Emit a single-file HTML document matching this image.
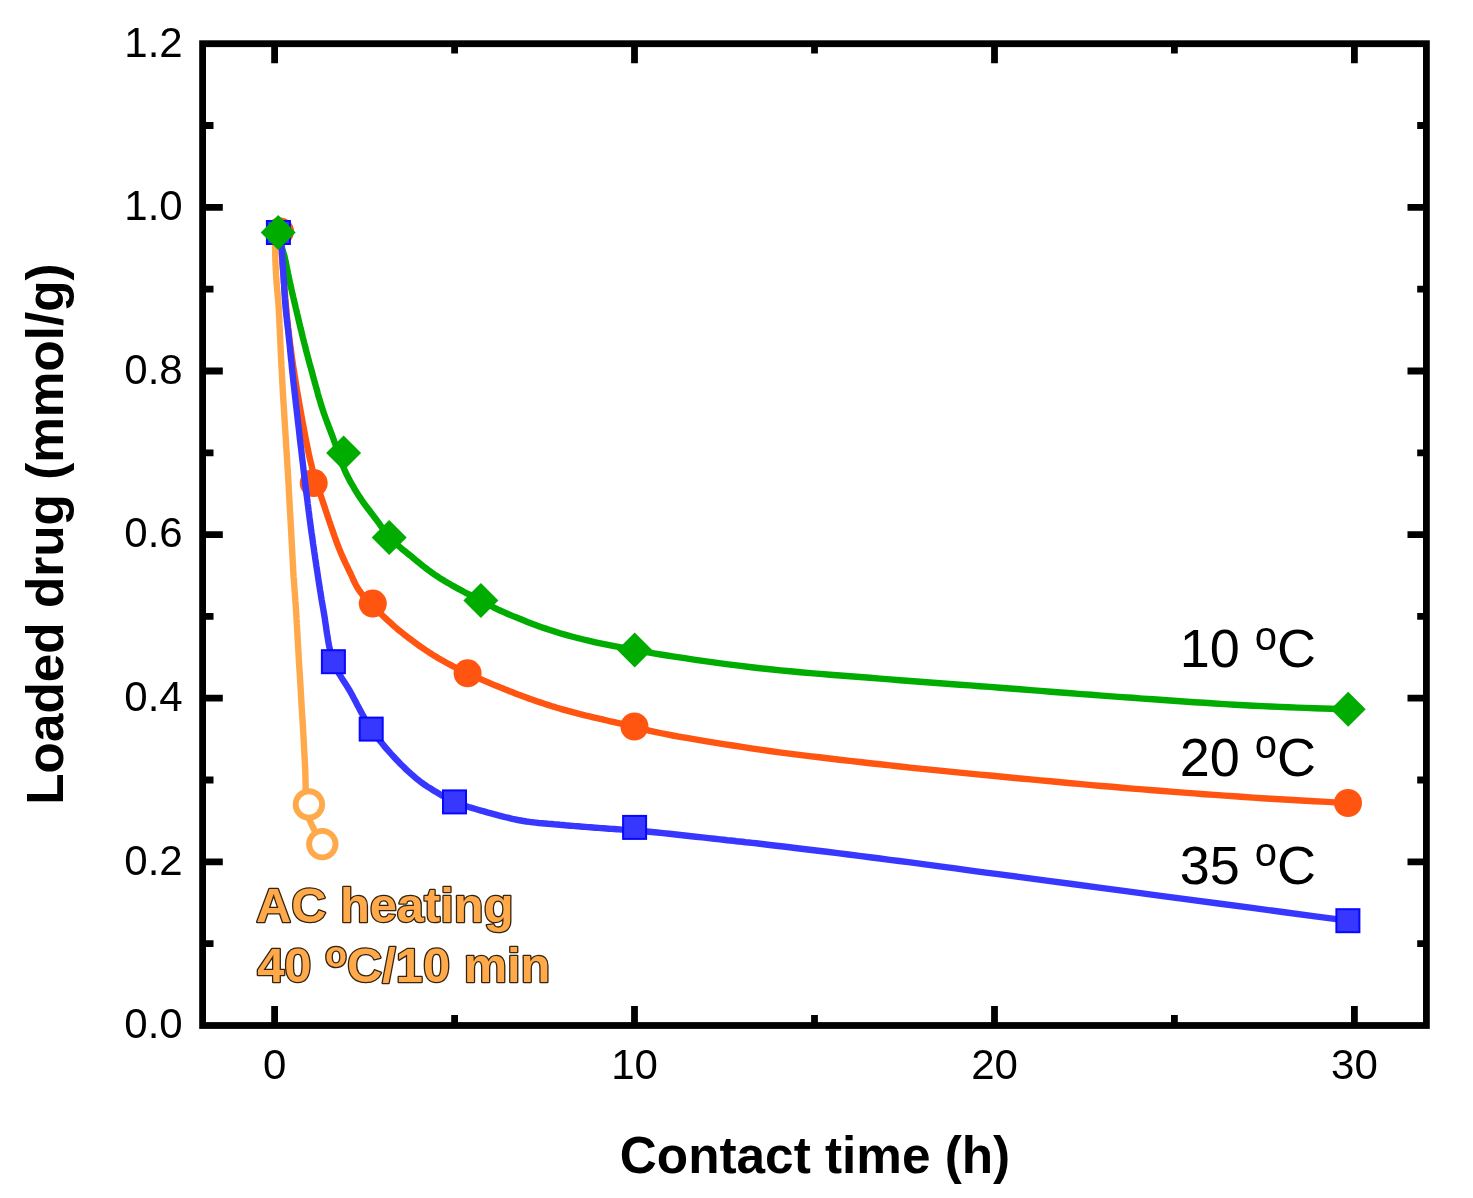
<!DOCTYPE html>
<html><head><meta charset="utf-8"><title>Loaded drug vs contact time</title>
<style>html,body{margin:0;padding:0;background:#fff}svg{display:block;filter:blur(0.45px)}text{font-family:"Liberation Sans",sans-serif}</style></head><body>
<svg width="1473" height="1198" viewBox="0 0 1473 1198">
<rect width="1473" height="1198" fill="#fff"/>
<g fill="none" stroke-width="6.4" stroke-linejoin="round" stroke-linecap="butt">
<path stroke="#FFA94B" d="M275.0,233.0 L275.0,234.8 L275.0,236.6 L275.0,238.4 L275.0,240.3 L275.0,242.1 L275.0,243.9 L275.0,245.8 L275.1,247.6 L275.1,249.5 L275.1,251.3 L275.2,253.2 L275.2,255.1 L275.3,257.1 L275.3,259.2 L275.4,261.3 L275.5,263.4 L275.6,265.5 L275.7,267.6 L275.8,269.7 L275.9,271.8 L276.0,273.9 L276.1,276.0 L276.3,278.1 L276.4,280.2 L276.5,282.3 L276.7,284.3 L276.9,286.3 L277.1,288.3 L277.2,290.3 L277.4,292.3 L277.6,294.4 L277.8,296.4 L278.0,298.5 L278.2,300.6 L278.3,302.8 L278.5,305.0 L278.7,307.7 L278.8,310.5 L279.0,313.3 L279.1,316.1 L279.3,319.0 L279.4,322.0 L279.5,324.9 L279.7,327.9 L279.8,330.9 L279.9,334.0 L280.1,337.0 L280.2,340.0 L280.4,343.2 L280.5,346.3 L280.7,349.4 L280.8,352.5 L280.9,355.6 L281.1,358.7 L281.3,361.9 L281.4,365.2 L281.6,368.7 L281.8,372.3 L282.0,376.0 L282.2,380.0 L282.6,386.9 L283.0,394.5 L283.5,402.8 L284.1,411.5 L284.6,420.5 L285.2,429.6 L285.8,438.8 L286.3,447.9 L286.9,456.7 L287.4,465.1 L287.9,472.9 L288.3,480.0 L288.6,484.4 L288.8,488.5 L289.0,492.5 L289.2,496.3 L289.4,500.0 L289.6,503.6 L289.8,507.1 L290.0,510.7 L290.2,514.2 L290.4,517.7 L290.6,521.3 L290.8,525.0 L291.0,528.8 L291.2,532.5 L291.4,536.3 L291.6,540.1 L291.8,543.9 L292.0,547.7 L292.2,551.4 L292.4,555.2 L292.6,558.9 L292.8,562.7 L293.0,566.3 L293.2,570.0 L293.4,573.4 L293.6,576.8 L293.9,580.2 L294.1,583.6 L294.4,587.0 L294.6,590.3 L294.9,593.6 L295.1,597.0 L295.3,600.2 L295.6,603.5 L295.8,606.8 L296.0,610.0 L296.2,612.9 L296.4,615.7 L296.5,618.4 L296.7,621.0 L296.8,623.7 L297.0,626.3 L297.1,629.0 L297.3,631.8 L297.4,634.8 L297.6,637.9 L297.8,641.3 L298.0,645.0 L298.5,653.0 L299.0,662.6 L299.7,673.2 L300.4,684.7 L301.1,696.8 L301.8,709.1 L302.6,721.3 L303.3,733.1 L303.9,744.1 L304.4,754.2 L304.9,762.9 L305.2,770.0 L305.3,772.5 L305.4,774.7 L305.4,776.8 L305.5,778.7 L305.5,780.6 L305.5,782.3 L305.6,783.9 L305.6,785.5 L305.6,787.1 L305.6,788.7 L305.7,790.3 L305.7,792.0 L305.7,793.6 L305.7,795.1 L305.7,796.6 L305.7,798.1 L305.6,799.6 L305.6,801.1 L305.6,802.6 L305.6,804.1 L305.7,805.5 L305.8,807.0 L306.0,808.5 L306.3,810.0 L306.7,811.7 L307.2,813.3 L307.7,815.0 L308.3,816.7 L309.0,818.5 L309.7,820.2 L310.4,821.8 L311.2,823.5 L311.9,825.1 L312.7,826.7 L313.4,828.2 L314.1,829.7 L314.7,830.8 L315.2,832.0 L315.8,833.1 L316.4,834.1 L316.9,835.2 L317.5,836.2 L318.1,837.2 L318.7,838.2 L319.2,839.1 L319.8,840.1 L320.4,841.0 L321.0,842.0"/>
</g>
<circle cx="308.9" cy="804.5" r="13.25" fill="#fff" stroke="#FFA94B" stroke-width="5.9"/>
<circle cx="322.3" cy="844.1" r="13.25" fill="#fff" stroke="#FFA94B" stroke-width="5.9"/>
<path fill="none" stroke="#FF5511" stroke-width="6.4" d="M280.5,232.4 L280.8,237.3 L281.1,242.2 L281.4,247.0 L281.8,251.9 L282.1,256.8 L282.4,261.6 L282.8,266.4 L283.1,271.2 L283.5,275.9 L283.8,280.7 L284.2,285.4 L284.6,290.0 L285.0,294.3 L285.3,298.5 L285.7,302.7 L286.1,306.8 L286.4,310.9 L286.8,315.0 L287.2,319.0 L287.7,323.1 L288.1,327.3 L288.6,331.5 L289.1,335.7 L289.6,340.0 L290.2,344.8 L290.9,349.6 L291.5,354.5 L292.2,359.5 L292.9,364.4 L293.7,369.4 L294.5,374.4 L295.3,379.5 L296.1,384.6 L296.9,389.7 L297.8,394.8 L298.7,400.0 L299.7,405.7 L300.7,411.6 L301.8,417.6 L302.9,423.7 L304.1,429.9 L305.2,436.0 L306.4,442.1 L307.6,448.0 L308.8,453.8 L310.0,459.3 L311.3,464.6 L312.5,469.5 L313.4,472.8 L314.3,476.0 L315.2,479.0 L316.1,482.0 L317.1,484.9 L318.0,487.6 L318.9,490.4 L319.9,493.0 L320.8,495.7 L321.7,498.3 L322.5,500.8 L323.4,503.4 L324.1,505.5 L324.8,507.5 L325.4,509.5 L326.1,511.5 L326.7,513.4 L327.3,515.3 L328.0,517.2 L328.6,519.1 L329.2,521.0 L329.9,522.9 L330.5,524.8 L331.2,526.7 L331.9,528.7 L332.6,530.6 L333.2,532.6 L333.9,534.5 L334.6,536.5 L335.3,538.4 L336.0,540.4 L336.7,542.3 L337.4,544.3 L338.2,546.2 L338.9,548.2 L339.7,550.1 L340.5,552.1 L341.4,554.1 L342.3,556.1 L343.2,558.1 L344.1,560.1 L345.0,562.1 L345.9,564.0 L346.9,566.0 L347.8,567.9 L348.7,569.8 L349.6,571.7 L350.5,573.5 L351.2,575.0 L351.9,576.5 L352.6,578.0 L353.2,579.4 L353.8,580.8 L354.5,582.2 L355.2,583.6 L355.9,585.0 L356.7,586.5 L357.6,587.9 L358.5,589.4 L359.6,591.0 L361.5,593.5 L363.6,596.1 L366.0,598.8 L368.6,601.6 L371.3,604.5 L374.2,607.4 L377.1,610.2 L380.0,613.0 L382.8,615.8 L385.6,618.4 L388.3,620.9 L390.9,623.2 L392.7,624.9 L394.6,626.6 L396.4,628.1 L398.2,629.7 L400.0,631.1 L401.8,632.6 L403.6,634.0 L405.3,635.4 L407.1,636.7 L408.9,638.1 L410.7,639.4 L412.5,640.8 L414.3,642.1 L416.1,643.5 L418.0,644.8 L419.8,646.1 L421.6,647.4 L423.5,648.7 L425.3,649.9 L427.2,651.1 L429.0,652.3 L430.8,653.5 L432.5,654.6 L434.2,655.7 L435.7,656.6 L437.1,657.4 L438.4,658.2 L439.8,659.0 L441.1,659.8 L442.5,660.5 L443.8,661.3 L445.1,662.0 L446.4,662.7 L447.8,663.5 L449.1,664.2 L450.5,664.9 L451.9,665.6 L453.2,666.3 L454.6,667.0 L455.9,667.7 L457.2,668.3 L458.6,669.0 L459.9,669.7 L461.3,670.4 L462.8,671.1 L464.3,671.8 L465.9,672.5 L467.6,673.3 L470.3,674.5 L473.2,675.8 L476.3,677.2 L479.6,678.7 L482.9,680.1 L486.4,681.6 L489.8,683.1 L493.3,684.6 L496.8,686.0 L500.2,687.4 L503.6,688.8 L506.8,690.1 L509.7,691.2 L512.5,692.3 L515.3,693.4 L518.1,694.5 L520.9,695.5 L523.6,696.6 L526.4,697.6 L529.1,698.6 L531.9,699.5 L534.6,700.5 L537.4,701.5 L540.2,702.4 L543.0,703.3 L545.7,704.2 L548.5,705.1 L551.3,706.0 L554.1,706.8 L556.9,707.7 L559.6,708.5 L562.4,709.3 L565.2,710.1 L568.0,710.9 L570.8,711.6 L573.6,712.4 L576.4,713.1 L579.2,713.9 L582.0,714.6 L584.8,715.3 L587.7,716.0 L590.5,716.6 L593.3,717.3 L596.1,718.0 L598.9,718.6 L601.6,719.2 L604.3,719.9 L607.0,720.5 L609.4,721.1 L611.7,721.6 L614.1,722.1 L616.4,722.7 L618.7,723.2 L620.9,723.7 L623.2,724.2 L625.4,724.7 L627.7,725.2 L629.9,725.8 L632.2,726.3 L634.4,726.8 L636.5,727.3 L638.5,727.8 L640.5,728.3 L642.4,728.8 L644.3,729.3 L646.2,729.8 L648.2,730.3 L650.2,730.8 L652.4,731.3 L654.8,731.9 L657.3,732.4 L660.0,733.0 L666.0,734.2 L672.7,735.5 L680.1,736.8 L688.1,738.2 L696.5,739.7 L705.3,741.1 L714.3,742.6 L723.5,744.1 L732.8,745.5 L742.0,746.9 L751.1,748.3 L760.0,749.6 L769.6,751.0 L779.3,752.3 L789.2,753.6 L799.2,754.9 L809.2,756.1 L819.3,757.3 L829.4,758.5 L839.6,759.7 L849.7,760.9 L859.9,762.0 L870.0,763.2 L880.0,764.3 L890.0,765.4 L900.0,766.5 L910.0,767.6 L919.9,768.6 L929.9,769.6 L939.9,770.6 L949.9,771.6 L959.9,772.6 L969.9,773.6 L979.9,774.6 L990.0,775.5 L1000.0,776.5 L1010.1,777.5 L1020.3,778.5 L1030.5,779.4 L1040.6,780.4 L1050.8,781.3 L1061.0,782.3 L1071.2,783.2 L1081.4,784.1 L1091.6,785.1 L1101.8,786.0 L1112.0,786.8 L1122.2,787.7 L1132.4,788.6 L1142.7,789.4 L1153.0,790.2 L1163.3,791.0 L1173.6,791.9 L1183.9,792.6 L1194.2,793.4 L1204.4,794.2 L1214.6,794.9 L1224.6,795.6 L1234.6,796.3 L1244.4,797.0 L1253.3,797.6 L1262.2,798.2 L1271.0,798.7 L1279.7,799.2 L1288.4,799.7 L1297.0,800.2 L1305.6,800.7 L1314.1,801.2 L1322.6,801.6 L1331.1,802.1 L1339.5,802.6 L1348.0,803.0"/>
<circle cx="280" cy="231.5" r="14" fill="#FF5511"/>
<circle cx="313.7" cy="483.1" r="14" fill="#FF5511"/>
<circle cx="372.8" cy="603.6" r="14" fill="#FF5511"/>
<circle cx="467.6" cy="673.3" r="14" fill="#FF5511"/>
<circle cx="634.4" cy="726.5" r="14" fill="#FF5511"/>
<circle cx="1348" cy="803" r="14" fill="#FF5511"/>
<path fill="none" stroke="#00AC00" stroke-width="6.4" d="M278.3,232.6 L278.6,233.7 L278.8,234.8 L279.1,236.0 L279.4,237.1 L279.6,238.2 L279.9,239.3 L280.2,240.4 L280.4,241.5 L280.7,242.6 L281.0,243.7 L281.2,244.7 L281.5,245.8 L281.8,246.8 L282.0,247.7 L282.3,248.6 L282.5,249.4 L282.8,250.3 L283.0,251.2 L283.3,252.1 L283.5,253.0 L283.8,253.9 L284.1,254.9 L284.3,255.9 L284.6,257.0 L285.0,258.7 L285.4,260.6 L285.8,262.6 L286.3,264.6 L286.7,266.8 L287.1,268.9 L287.6,271.2 L288.0,273.4 L288.5,275.6 L288.9,277.8 L289.4,279.9 L289.8,282.0 L290.2,283.9 L290.7,285.8 L291.1,287.7 L291.5,289.6 L291.9,291.4 L292.3,293.3 L292.8,295.1 L293.2,297.0 L293.7,298.9 L294.1,300.9 L294.6,302.9 L295.1,305.0 L295.7,307.7 L296.4,310.4 L297.0,313.2 L297.7,316.0 L298.4,319.0 L299.1,321.9 L299.8,324.9 L300.5,327.9 L301.3,330.9 L302.0,334.0 L302.7,337.0 L303.5,340.0 L304.3,343.3 L305.2,346.6 L306.0,350.0 L306.9,353.4 L307.8,356.8 L308.7,360.2 L309.6,363.6 L310.6,367.0 L311.5,370.4 L312.4,373.6 L313.2,376.9 L314.1,380.0 L314.8,382.7 L315.6,385.3 L316.3,387.8 L317.0,390.3 L317.6,392.8 L318.3,395.3 L319.0,397.7 L319.8,400.2 L320.5,402.6 L321.2,405.1 L322.0,407.5 L322.8,410.0 L323.6,412.5 L324.5,415.0 L325.4,417.5 L326.3,420.0 L327.2,422.5 L328.2,425.0 L329.1,427.5 L330.1,430.0 L331.0,432.5 L332.0,435.0 L332.9,437.5 L333.8,440.0 L334.7,442.5 L335.6,445.0 L336.4,447.6 L337.3,450.1 L338.1,452.7 L339.0,455.2 L339.8,457.8 L340.7,460.3 L341.6,462.8 L342.6,465.2 L343.6,467.6 L344.6,470.0 L345.6,472.2 L346.6,474.3 L347.7,476.5 L348.7,478.6 L349.8,480.6 L350.9,482.7 L352.1,484.7 L353.3,486.7 L354.5,488.8 L355.7,490.8 L357.0,492.9 L358.3,495.0 L359.9,497.4 L361.5,499.8 L363.3,502.3 L365.1,504.8 L366.9,507.3 L368.8,509.8 L370.7,512.3 L372.5,514.7 L374.3,517.0 L376.0,519.2 L377.6,521.4 L379.1,523.4 L380.0,524.7 L380.9,526.0 L381.7,527.2 L382.5,528.3 L383.2,529.4 L384.0,530.5 L384.7,531.6 L385.5,532.7 L386.3,533.8 L387.2,534.9 L388.1,536.0 L389.2,537.2 L390.8,538.9 L392.6,540.6 L394.5,542.4 L396.5,544.2 L398.7,546.1 L400.8,547.9 L403.0,549.8 L405.3,551.6 L407.5,553.4 L409.7,555.1 L411.8,556.8 L413.8,558.5 L415.5,559.9 L417.3,561.4 L419.0,562.7 L420.7,564.1 L422.3,565.5 L424.0,566.8 L425.7,568.1 L427.4,569.4 L429.1,570.7 L430.8,571.9 L432.5,573.2 L434.2,574.4 L436.0,575.6 L437.8,576.7 L439.5,577.9 L441.3,579.0 L443.1,580.1 L444.9,581.2 L446.7,582.2 L448.5,583.3 L450.3,584.3 L452.2,585.4 L454.0,586.4 L455.9,587.5 L457.9,588.6 L460.0,589.7 L462.1,590.8 L464.2,592.0 L466.3,593.1 L468.5,594.2 L470.6,595.2 L472.7,596.3 L474.8,597.4 L476.9,598.4 L478.9,599.5 L480.9,600.5 L482.5,601.4 L484.1,602.2 L485.6,603.0 L487.0,603.8 L488.5,604.6 L489.9,605.4 L491.4,606.2 L492.9,607.0 L494.5,607.9 L496.2,608.7 L498.0,609.6 L500.0,610.5 L503.8,612.2 L507.9,614.0 L512.4,615.9 L517.2,617.8 L522.2,619.8 L527.4,621.9 L532.7,623.9 L538.1,625.9 L543.6,627.9 L549.1,629.7 L554.6,631.5 L560.0,633.2 L565.8,634.9 L571.7,636.5 L577.5,638.0 L583.5,639.5 L589.4,640.9 L595.5,642.3 L601.7,643.6 L608.0,644.9 L614.4,646.2 L621.0,647.4 L627.7,648.7 L634.7,650.0 L644.0,651.7 L653.7,653.3 L663.8,655.0 L674.1,656.6 L684.7,658.2 L695.4,659.8 L706.3,661.4 L717.2,662.8 L728.1,664.3 L738.9,665.7 L749.5,667.0 L760.0,668.2 L770.1,669.3 L780.1,670.4 L790.2,671.3 L800.2,672.3 L810.2,673.1 L820.1,673.9 L830.1,674.7 L840.1,675.5 L850.0,676.3 L860.0,677.0 L870.0,677.8 L880.0,678.6 L890.0,679.4 L900.0,680.2 L910.0,681.0 L920.0,681.7 L929.9,682.5 L939.9,683.2 L949.9,684.0 L959.9,684.7 L969.9,685.4 L979.9,686.2 L990.0,686.9 L1000.0,687.7 L1010.1,688.5 L1020.3,689.3 L1030.5,690.1 L1040.6,690.9 L1050.8,691.7 L1061.0,692.5 L1071.2,693.3 L1081.4,694.1 L1091.6,694.8 L1101.8,695.6 L1112.0,696.4 L1122.2,697.1 L1132.4,697.8 L1142.7,698.6 L1153.0,699.3 L1163.3,700.0 L1173.6,700.8 L1183.9,701.5 L1194.2,702.2 L1204.4,702.8 L1214.5,703.5 L1224.6,704.1 L1234.6,704.7 L1244.4,705.2 L1253.4,705.7 L1262.2,706.1 L1271.0,706.5 L1279.8,706.9 L1288.5,707.2 L1297.1,707.6 L1305.7,707.9 L1314.2,708.2 L1322.7,708.5 L1331.2,708.7 L1339.7,709.0 L1348.2,709.3"/>
<path fill="none" stroke="#3737FF" stroke-width="6.4" d="M280.8,233.0 L280.9,234.8 L281.0,236.6 L281.1,238.4 L281.2,240.3 L281.3,242.1 L281.4,243.9 L281.5,245.8 L281.6,247.6 L281.8,249.5 L281.9,251.3 L282.0,253.2 L282.1,255.1 L282.2,257.1 L282.4,259.2 L282.5,261.3 L282.6,263.4 L282.8,265.5 L282.9,267.6 L283.1,269.7 L283.2,271.8 L283.4,273.9 L283.5,276.0 L283.7,278.1 L283.8,280.2 L283.9,282.3 L284.1,284.3 L284.2,286.3 L284.3,288.3 L284.4,290.3 L284.5,292.3 L284.6,294.4 L284.8,296.4 L284.9,298.5 L285.1,300.6 L285.2,302.8 L285.4,305.0 L285.6,307.7 L285.9,310.5 L286.2,313.3 L286.5,316.1 L286.8,319.0 L287.1,322.0 L287.5,324.9 L287.8,327.9 L288.2,330.9 L288.5,334.0 L288.8,337.0 L289.1,340.0 L289.5,343.2 L289.8,346.3 L290.1,349.4 L290.4,352.5 L290.7,355.6 L291.0,358.7 L291.4,361.9 L291.7,365.2 L292.0,368.7 L292.4,372.3 L292.8,376.0 L293.2,380.0 L294.0,386.9 L294.9,394.5 L295.8,402.8 L296.8,411.5 L297.8,420.5 L298.9,429.7 L299.9,438.9 L301.0,447.9 L302.0,456.7 L303.0,465.1 L303.9,472.9 L304.8,480.0 L305.3,484.4 L305.8,488.5 L306.3,492.5 L306.8,496.3 L307.3,500.0 L307.7,503.6 L308.2,507.2 L308.6,510.7 L309.1,514.2 L309.5,517.7 L310.0,521.3 L310.5,525.0 L311.0,528.8 L311.5,532.5 L312.1,536.3 L312.6,540.1 L313.1,543.9 L313.7,547.7 L314.2,551.4 L314.8,555.2 L315.3,558.9 L315.9,562.7 L316.4,566.3 L317.0,570.0 L317.5,573.4 L318.0,576.7 L318.5,580.1 L319.0,583.3 L319.5,586.6 L320.0,589.8 L320.6,593.1 L321.1,596.4 L321.6,599.7 L322.2,603.1 L322.8,606.5 L323.4,610.0 L324.1,614.1 L324.8,618.4 L325.4,622.8 L326.1,627.3 L326.7,631.9 L327.5,636.4 L328.2,640.9 L329.0,645.4 L330.0,649.7 L331.0,653.9 L332.1,657.9 L333.4,661.7 L334.6,664.6 L335.8,667.4 L337.1,670.1 L338.5,672.7 L340.0,675.2 L341.5,677.6 L343.0,680.1 L344.6,682.5 L346.2,684.9 L347.7,687.4 L349.3,690.0 L350.8,692.6 L352.4,695.5 L354.0,698.6 L355.6,701.6 L357.2,704.7 L358.9,707.8 L360.5,710.9 L362.2,714.0 L363.9,717.1 L365.6,720.2 L367.4,723.2 L369.3,726.2 L371.2,729.1 L373.2,732.0 L375.3,734.8 L377.5,737.7 L379.7,740.5 L382.0,743.3 L384.3,746.1 L386.6,748.8 L388.9,751.4 L391.2,754.0 L393.5,756.5 L395.8,759.0 L398.0,761.3 L399.8,763.2 L401.6,765.0 L403.5,766.8 L405.3,768.6 L407.1,770.3 L408.9,772.0 L410.7,773.6 L412.5,775.1 L414.2,776.6 L415.9,778.1 L417.6,779.5 L419.3,780.8 L420.5,781.8 L421.7,782.7 L422.9,783.5 L424.1,784.3 L425.2,785.1 L426.3,785.9 L427.4,786.6 L428.6,787.4 L429.8,788.1 L431.0,788.8 L432.2,789.6 L433.5,790.4 L435.1,791.4 L436.7,792.3 L438.3,793.3 L439.9,794.3 L441.6,795.3 L443.3,796.3 L445.0,797.3 L446.8,798.2 L448.7,799.2 L450.6,800.1 L452.5,801.0 L454.5,801.9 L457.1,803.0 L459.8,804.0 L462.7,805.0 L465.6,806.0 L468.6,807.0 L471.7,807.9 L474.8,808.8 L477.9,809.7 L481.0,810.6 L484.1,811.4 L487.1,812.3 L490.1,813.1 L492.9,813.9 L495.7,814.6 L498.5,815.4 L501.2,816.1 L504.0,816.8 L506.7,817.5 L509.5,818.1 L512.3,818.8 L515.0,819.4 L517.8,820.0 L520.7,820.5 L523.5,821.0 L526.5,821.5 L529.5,821.9 L532.6,822.3 L535.6,822.6 L538.7,823.0 L541.8,823.2 L544.9,823.5 L548.0,823.8 L551.1,824.0 L554.1,824.3 L557.1,824.5 L560.0,824.8 L562.6,825.0 L565.2,825.3 L567.8,825.5 L570.3,825.7 L572.8,825.9 L575.3,826.1 L577.8,826.3 L580.3,826.5 L582.7,826.7 L585.2,826.9 L587.8,827.1 L590.3,827.3 L592.9,827.5 L595.6,827.7 L598.2,827.9 L600.9,828.1 L603.6,828.3 L606.3,828.5 L609.0,828.7 L611.6,828.9 L614.2,829.0 L616.8,829.2 L619.4,829.4 L621.9,829.6 L624.0,829.8 L626.1,829.9 L628.1,830.0 L630.0,830.2 L631.9,830.3 L633.8,830.4 L635.7,830.6 L637.7,830.7 L639.8,830.9 L642.0,831.1 L644.4,831.3 L646.9,831.5 L651.7,832.0 L657.1,832.5 L663.0,833.1 L669.2,833.8 L675.8,834.5 L682.4,835.2 L689.2,836.0 L695.8,836.7 L702.4,837.4 L708.6,838.1 L714.6,838.8 L720.0,839.4 L723.7,839.8 L727.1,840.2 L730.3,840.5 L733.4,840.8 L736.4,841.2 L739.4,841.5 L742.4,841.8 L745.5,842.2 L748.8,842.5 L752.2,842.9 L756.0,843.3 L760.0,843.8 L767.8,844.7 L776.3,845.7 L785.5,846.8 L795.2,848.0 L805.4,849.2 L816.0,850.5 L826.8,851.8 L837.6,853.2 L848.5,854.5 L859.3,855.9 L869.8,857.2 L880.0,858.5 L889.8,859.8 L899.3,861.0 L908.5,862.2 L917.7,863.4 L926.8,864.6 L936.1,865.9 L945.6,867.1 L955.4,868.4 L965.6,869.8 L976.4,871.3 L987.8,872.8 L1000.0,874.4 L1022.4,877.4 L1046.5,880.6 L1072.1,884.0 L1099.2,887.6 L1127.6,891.4 L1157.0,895.3 L1187.4,899.3 L1218.5,903.5 L1250.3,907.7 L1282.6,912.0 L1315.2,916.3 L1347.9,920.7"/>
<rect x="266.9" y="221.0" width="23" height="23" fill="#3737FF" stroke="#0808FF" stroke-width="2"/>
<rect x="321.9" y="650.2" width="23" height="23" fill="#3737FF" stroke="#0808FF" stroke-width="2"/>
<rect x="359.7" y="717.6" width="23" height="23" fill="#3737FF" stroke="#0808FF" stroke-width="2"/>
<rect x="443.0" y="790.4" width="23" height="23" fill="#3737FF" stroke="#0808FF" stroke-width="2"/>
<rect x="623.1" y="815.9" width="23" height="23" fill="#3737FF" stroke="#0808FF" stroke-width="2"/>
<rect x="1336.4" y="909.2" width="23" height="23" fill="#3737FF" stroke="#0808FF" stroke-width="2"/>
<path fill="#00AC00" d="M260.7,232.4 L278.2,214.9 L295.7,232.4 L278.2,249.9Z"/>
<path fill="#00AC00" d="M326.1,453.0 L343.6,435.5 L361.1,453.0 L343.6,470.5Z"/>
<path fill="#00AC00" d="M371.7,537.4 L389.2,519.9 L406.7,537.4 L389.2,554.9Z"/>
<path fill="#00AC00" d="M463.4,600.5 L480.9,583.0 L498.4,600.5 L480.9,618.0Z"/>
<path fill="#00AC00" d="M617.2,650.0 L634.7,632.5 L652.2,650.0 L634.7,667.5Z"/>
<path fill="#00AC00" d="M1330.7,709.3 L1348.2,691.8 L1365.7,709.3 L1348.2,726.8Z"/>
<g stroke="#000" stroke-width="6.8" fill="none">
<rect x="202.6" y="43.7" width="1223.8" height="981.8"/>
<path d="M274.6,1025.5 v-19.4 M274.6,43.7 v19.5 M634.5,1025.5 v-19.4 M634.5,43.7 v19.5 M994.5,1025.5 v-19.4 M994.5,43.7 v19.5 M1354.4,1025.5 v-19.4 M1354.4,43.7 v19.5 M454.6,1025.5 v-10.4 M454.6,43.7 v9.8 M814.5,1025.5 v-10.4 M814.5,43.7 v9.8 M1174.4,1025.5 v-10.4 M1174.4,43.7 v9.8 M202.6,861.9 h20.2 M1426.4,861.9 h-18.9 M202.6,698.2 h20.2 M1426.4,698.2 h-18.9 M202.6,534.6 h20.2 M1426.4,534.6 h-18.9 M202.6,371.0 h20.2 M1426.4,371.0 h-18.9 M202.6,207.3 h20.2 M1426.4,207.3 h-18.9 M202.6,943.7 h10.9 M1426.4,943.7 h-9.2 M202.6,780.0 h10.9 M1426.4,780.0 h-9.2 M202.6,616.4 h10.9 M1426.4,616.4 h-9.2 M202.6,452.8 h10.9 M1426.4,452.8 h-9.2 M202.6,289.1 h10.9 M1426.4,289.1 h-9.2 M202.6,125.5 h10.9 M1426.4,125.5 h-9.2"/>
</g>
<g font-size="42" fill="#000">
<text x="274.6" y="1078.8" text-anchor="middle">0</text>
<text x="634.5" y="1078.8" text-anchor="middle">10</text>
<text x="994.5" y="1078.8" text-anchor="middle">20</text>
<text x="1354.4" y="1078.8" text-anchor="middle">30</text>
<text x="182.7" y="1038.3" text-anchor="end">0.0</text>
<text x="182.7" y="874.7" text-anchor="end">0.2</text>
<text x="182.7" y="711.0" text-anchor="end">0.4</text>
<text x="182.7" y="547.4" text-anchor="end">0.6</text>
<text x="182.7" y="383.8" text-anchor="end">0.8</text>
<text x="182.7" y="220.1" text-anchor="end">1.0</text>
<text x="182.7" y="56.5" text-anchor="end">1.2</text>
</g>
<text x="815" y="1173.3" font-size="51.3" font-weight="bold" text-anchor="middle">Contact time (h)</text>
<text transform="translate(63,534) rotate(-90)" font-size="51.3" font-weight="bold" text-anchor="middle">Loaded drug (mmol/g)</text>
<text x="1179.7" y="667.4" font-size="54">10 <tspan font-size="40" dy="-17.5">o</tspan><tspan dy="17.5">C</tspan></text>
<text x="1179.7" y="775.7" font-size="54">20 <tspan font-size="40" dy="-17.5">o</tspan><tspan dy="17.5">C</tspan></text>
<text x="1179.7" y="883.9" font-size="54">35 <tspan font-size="40" dy="-17.5">o</tspan><tspan dy="17.5">C</tspan></text>
<g font-size="48.8" font-weight="bold" fill="#FFA94B" stroke="#33240f" stroke-width="2.6" stroke-linejoin="round" paint-order="stroke">
<text x="255.9" y="922">AC heating</text>
<text x="257.2" y="982">40 <tspan font-size="36" dy="-15">o</tspan><tspan dy="15">C/10 min</tspan></text>
</g>
</svg></body></html>
